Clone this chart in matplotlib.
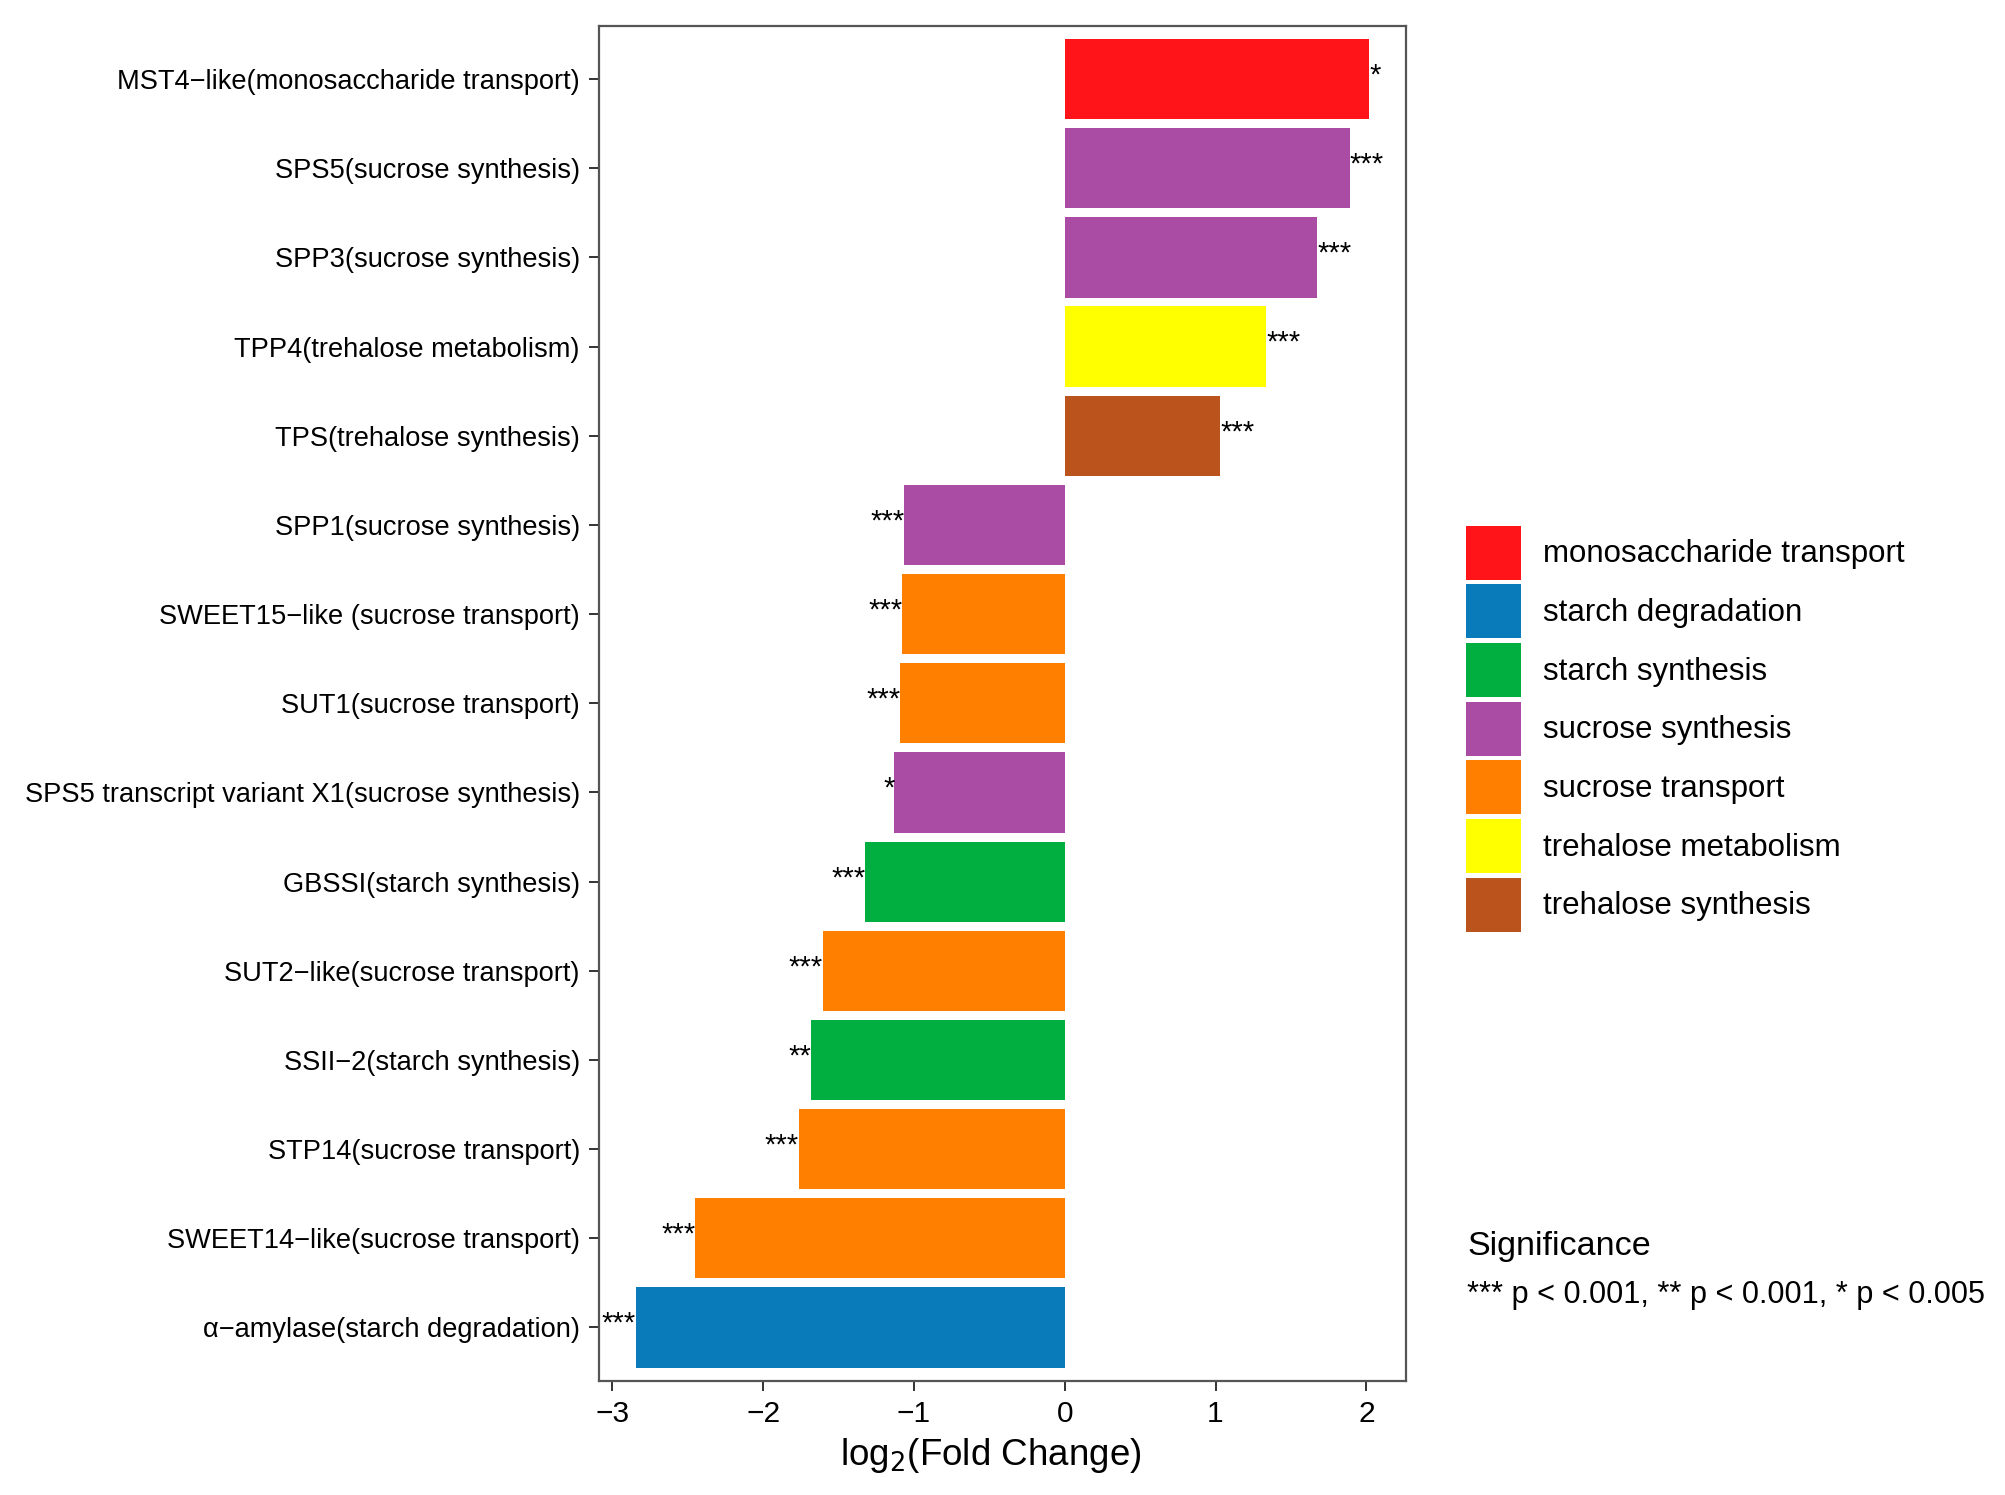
import matplotlib
matplotlib.use("Agg")
import matplotlib.pyplot as plt
from matplotlib.patches import Patch

plt.rcParams['font.family'] = ['Liberation Sans', 'DejaVu Sans']

genes = [
    "MST4\u2212like(monosaccharide transport)",
    "SPS5(sucrose synthesis)",
    "SPP3(sucrose synthesis)",
    "TPP4(trehalose metabolism)",
    "TPS(trehalose synthesis)",
    "SPP1(sucrose synthesis)",
    "SWEET15\u2212like (sucrose transport)",
    "SUT1(sucrose transport)",
    "SPS5 transcript variant X1(sucrose synthesis)",
    "GBSSI(starch synthesis)",
    "SUT2\u2212like(sucrose transport)",
    "SSII\u22122(starch synthesis)",
    "STP14(sucrose transport)",
    "SWEET14\u2212like(sucrose transport)",
    "\u03b1\u2212amylase(starch degradation)",
]
log2fc = [2.02, 1.89, 1.675, 1.336, 1.032, -1.063, -1.078, -1.089, -1.129,
          -1.323, -1.604, -1.683, -1.763, -2.450, -2.845]
pathway = ["monosaccharide transport", "sucrose synthesis", "sucrose synthesis",
           "trehalose metabolism", "trehalose synthesis", "sucrose synthesis",
           "sucrose transport", "sucrose transport", "sucrose synthesis",
           "starch synthesis", "sucrose transport", "starch synthesis",
           "sucrose transport", "sucrose transport", "starch degradation"]
signif = ["*", "***", "***", "***", "***", "***", "***", "***", "*",
          "***", "***", "**", "***", "***", "***"]

categories = ["monosaccharide transport", "starch degradation", "starch synthesis",
              "sucrose synthesis", "sucrose transport", "trehalose metabolism",
              "trehalose synthesis"]
cat_colors = ["#FF141A", "#0A7BBA", "#00AF40", "#AB4CA4", "#FF7F00", "#FFFF00", "#BB541C"]
cmap = dict(zip(categories, cat_colors))

W, H = 2006, 1495
fig = plt.figure(figsize=(W / 100, H / 100), dpi=100)
ax = fig.add_axes([599 / W, (H - 1381) / H, (1406 - 599) / W, (1381 - 25.6) / H])

n = len(genes)
ypos = [n - 1 - i for i in range(n)]
ax.barh(ypos, log2fc, height=0.9, color=[cmap[p] for p in pathway], edgecolor='none')

for y, v, s in zip(ypos, log2fc, signif):
    if v >= 0:
        ax.text(v, y + 0.04, s, ha='left', va='center', fontsize=21, color='black')
    else:
        ax.text(v, y + 0.04, s, ha='right', va='center', fontsize=21, color='black')

ax.set_xlim(-3.088, 2.263)
ax.set_ylim(-0.6, n - 1 + 0.6)
ax.set_yticks(ypos)
ax.set_yticklabels(genes, fontsize=19.6, color='black')
ax.set_xticks([-3, -2, -1, 0, 1, 2])
ax.set_xticklabels(["\u22123", "\u22122", "\u22121", "0", "1", "2"], fontsize=21.5, color='black')
ax.tick_params(axis='y', length=7.2, width=1.4, color='#333333', pad=6.5)
ax.tick_params(axis='x', length=7.2, width=1.4, color='#333333', pad=6.5)
for sp in ax.spines.values():
    sp.set_color('#555555')
    sp.set_linewidth(1.6)
ax.set_xlabel("log$_2$(Fold Change)", fontsize=26.5, labelpad=6)
ax.xaxis.label.set_x(0.486)

handles = [Patch(facecolor=c, edgecolor='none') for c in cat_colors]
fig.legend(handles, categories, loc='upper left',
           bbox_to_anchor=(1466 / W, 1 - 525.7 / H), frameon=False,
           fontsize=22.5, handlelength=1.76, handleheight=2.28,
           labelspacing=0.15, handletextpad=0.7, borderpad=0, borderaxespad=0)

fig.text(1467 / W, 1 - 1255 / H, "Significance", fontsize=24.5, ha='left', va='baseline')
fig.text(1467 / W, 1 - 1303 / H, "*** p < 0.001, ** p < 0.001, * p < 0.005",
         fontsize=22.1, ha='left', va='baseline')

fig.savefig("out.png", dpi=100, facecolor='white')
